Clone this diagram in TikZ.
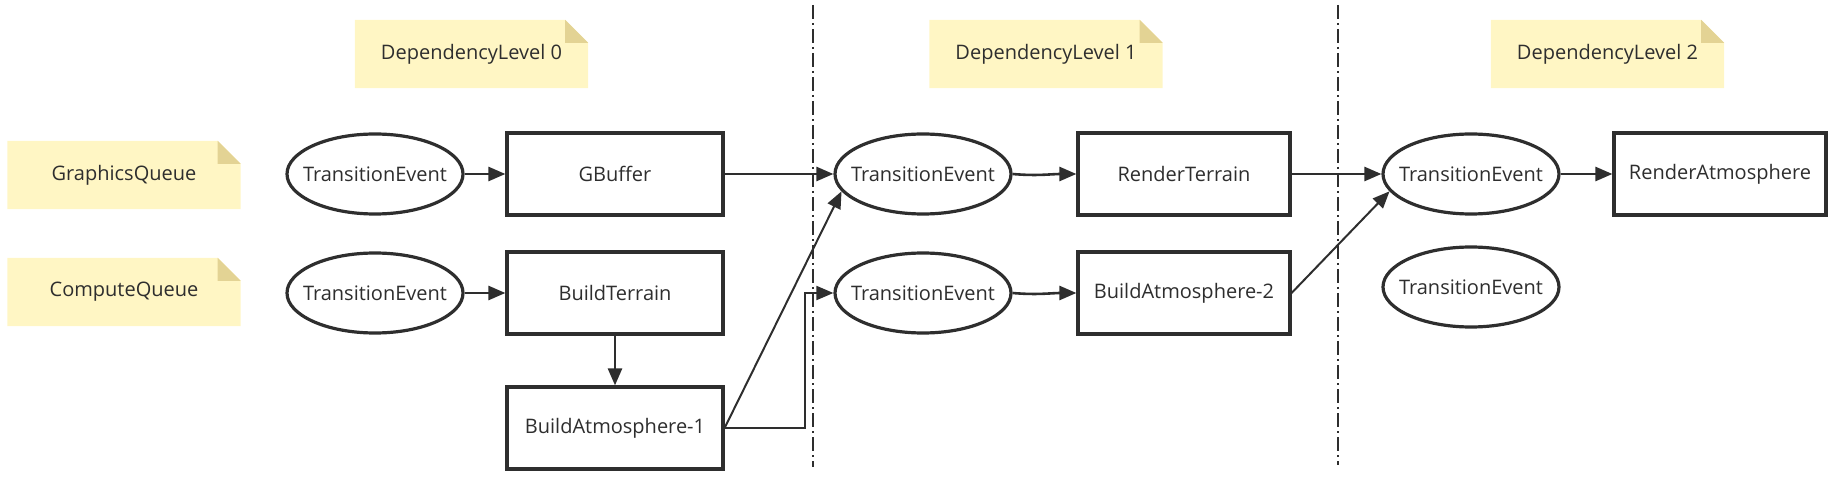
\documentclass[tikz,border=0pt]{standalone}
\usepackage{fontspec}
\setmainfont{Open Sans}
\usetikzlibrary{shapes.geometric,arrows.meta,backgrounds,calc}
\definecolor{ink}{HTML}{2E2E2E}
\definecolor{notefill}{HTML}{FFF6C4}
\definecolor{notefold}{HTML}{E3D394}
\newcommand{\evlabel}[1]{\makebox[0pt][c]{\raisebox{-0.36em}[0pt][0pt]{#1}}}
\begin{document}
\begin{tikzpicture}[x=1pt,y=-1pt, font=\fontsize{20}{24}\selectfont, text=ink,
 notebox/.style={minimum width=233pt, minimum height=68pt, inner sep=0pt},
 eventnode/.style={ellipse, draw=ink, line width=3.2pt, minimum width=176pt, minimum height=80pt, inner sep=0pt, fill=white},
 passbox/.style={rectangle, draw=ink, line width=3.2pt, minimum width=216pt, minimum height=82pt, inner sep=0pt, fill=white},
 flow/.style={draw=ink, line width=2.6pt, -{Triangle[length=17pt,width=14pt]}},
 level/.style={draw=ink, line width=2.4pt, dash pattern=on 14pt off 4pt on 2pt off 4pt}]
\useasboundingbox (0,0) rectangle (1837,478);
% notes
\node[notebox] (dl0) at (471.5,54) {DependencyLevel 0};
\node[notebox] (dl1) at (1046,54) {DependencyLevel 1};
\node[notebox] (dl2) at (1607.5,54) {DependencyLevel 2};
\node[notebox] (gq) at (124,175) {GraphicsQueue};
\node[notebox] (cq) at (124,292) {ComputeQueue};
\begin{scope}[on background layer]
\foreach \n in {dl0,dl1,dl2,gq,cq}{
 \fill[notefill] (\n.north west) -- ($(\n.north east)+(-23,0)$) -- ($(\n.north east)+(0,23)$) -- (\n.south east) -- (\n.south west) -- cycle;
 \fill[notefold] ($(\n.north east)+(-23,0)$) -- ($(\n.north east)+(0,23)$) -- ($(\n.north east)+(-23,23)$) -- cycle;
}
\end{scope}
% level separators
\coordinate (s1top) at (813,5);
\coordinate (s1bot) at (813,467);
\coordinate (s2top) at (1338,5);
\coordinate (s2bot) at (1338,465);
\draw[level] (s1top) -- (s1bot);
\draw[level] (s2top) -- (s2bot);
% events
\node[eventnode] (te1) at (375,174) {\evlabel{TransitionEvent}};
\node[eventnode] (te2) at (375,293) {\evlabel{TransitionEvent}};
\node[eventnode] (te3) at (923,174) {\evlabel{TransitionEvent}};
\node[eventnode] (te4) at (923,293) {\evlabel{TransitionEvent}};
\node[eventnode] (te5) at (1471,174) {\evlabel{TransitionEvent}};
\node[eventnode] (te6) at (1471,287) {\evlabel{TransitionEvent}};
% passes
\node[passbox] (gbuf) at (615,174) {GBuffer};
\node[passbox] (bterr) at (615,293) {BuildTerrain};
\node[passbox] (ba1) at (615,428) {BuildAtmosphere-1};
\node[passbox, minimum width=212pt] (rterr) at (1184,174) {RenderTerrain};
\node[passbox, minimum width=212pt] (ba2) at (1184,293) {BuildAtmosphere-2};
\node[passbox, minimum width=212pt] (ratm) at (1720,174) {RenderAtmosphere};
% connectors
\draw[flow] (te1) -- (gbuf);
\draw[flow] (gbuf) -- (te3);
\draw[flow] (te3.east) to[out=-5,in=180] (rterr.west);
\draw[flow] (rterr) -- (te5);
\draw[flow] (te5) -- (ratm);
\draw[flow] (te2) -- (bterr);
\draw[flow] (te4.east) to[out=-5,in=180] (ba2.west);
\draw[flow] (bterr) -- (ba1);
\draw[flow, line width=2pt] (ba1.east) -- (te3.192);
\draw[flow, line width=2pt] (ba1.east) -- ++(80,0) |- (te4.west);
\draw[flow, line width=2pt] (ba2.east) -- (te5.192);
\end{tikzpicture}
\end{document}
